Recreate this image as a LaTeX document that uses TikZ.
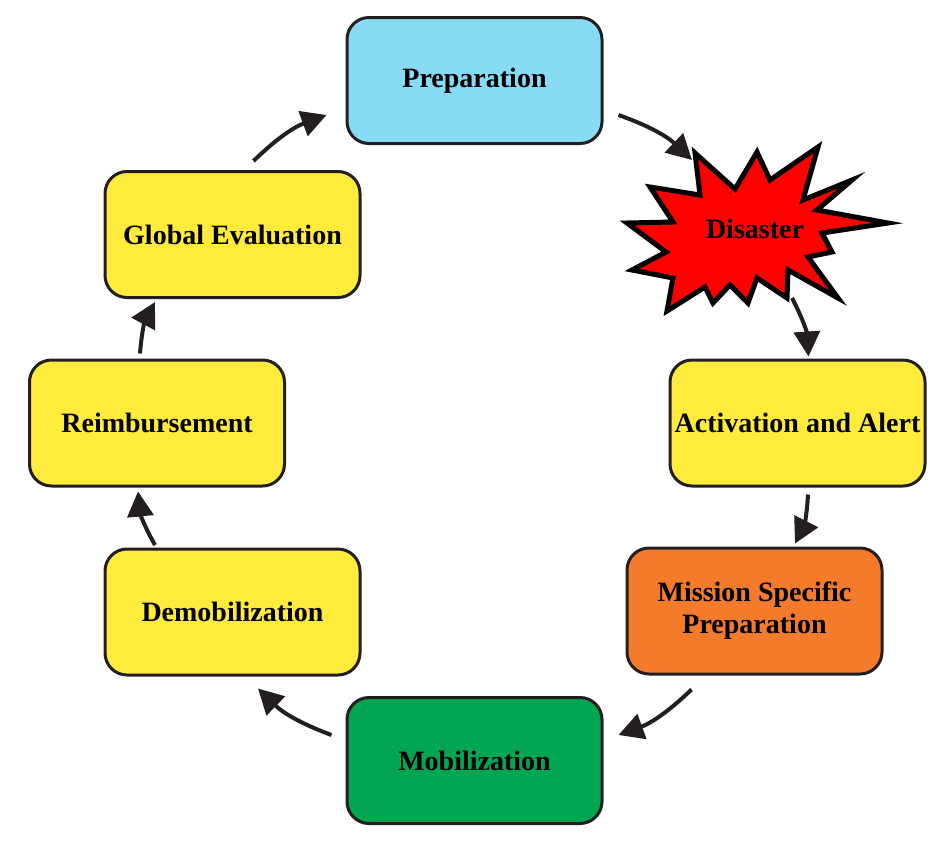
\documentclass[tikz,border=0pt]{standalone}
\usepackage{fontspec}
\setmainfont{Liberation Serif}
\usetikzlibrary{arrows.meta,calc}

\definecolor{outline}{HTML}{231F20}
\definecolor{prepblue}{HTML}{87DBF5}
\definecolor{stepyellow}{HTML}{FFEB3B}
\definecolor{missionorange}{HTML}{F47B2A}
\definecolor{mobgreen}{HTML}{00A651}

\tikzset{
  phase/.style={draw=outline, line width=1.5pt, rounded corners=11pt,
    minimum width=127.5pt, minimum height=63pt, inner sep=0pt, align=center,
    font=\fontsize{14}{16}\selectfont\bfseries},
  flow/.style={draw=outline, line width=2pt, -{Triangle[length=12.5pt,width=13pt]}},
  burst/.style={draw=black, fill=red, line width=2.5pt, line join=miter},
}

\begin{document}
\begin{tikzpicture}[x=0.5pt,y=-0.5pt]
  \useasboundingbox (0,0) rectangle (947,842);

  % the cycle
  \node[phase, fill=prepblue]      (prep)  at (474.5,80.5) {Preparation};
  \node[phase, fill=stepyellow]    (act)   at (797.5,423)  {Activation and Alert};
  \node[phase, fill=missionorange] (mis)   at (754.5,611)  {Mission Specific\\Preparation};
  \node[phase, fill=mobgreen]      (mob)   at (474.5,760.5) {Mobilization};
  \node[phase, fill=stepyellow]    (demob) at (232.5,612)  {Demobilization};
  \node[phase, fill=stepyellow]    (reimb) at (157,423)    {Reimbursement};
  \node[phase, fill=stepyellow]    (glob)  at (232.5,234.5) {Global Evaluation};

  % disaster starburst
  \draw[burst] (695,153) -- (735,189) -- (757,152) -- (770,180) -- (818,147)
    -- (803,200) -- (852,180) -- (817,210) -- (888,223) -- (822,233)
    -- (832,252) -- (808,257) -- (838,298) -- (788,270) -- (787,298)
    -- (757,278) -- (748,303) -- (730,285) -- (713,303) -- (705,287)
    -- (667,311) -- (673,278) -- (632,270) -- (666,252) -- (627,223)
    -- (673,222) -- (650,187) -- (700,195) -- cycle;
  \node[font=\fontsize{14}{16}\selectfont\bfseries, inner sep=0pt] (dis) at (755,229) {Disaster};

  \draw[flow] ($(prep.south east)+(15,-30)$) to[bend left=12] ($(dis)+(-63,-69)$);
  \draw[flow] ($(dis)+(37,69)$) to[bend left=12] ($(act.north)+(11,-2)$);
  \draw[flow] ($(act.south)+(10.5,7)$) to[bend left=12] ($(mis.north)+(40.5,-3)$);
  \draw[flow] ($(mis.south)+(-63,14)$) to[bend left=12] ($(mob.east)+(15,-25.5)$);
  \draw[flow] ($(mob.west)+(-14,-25.5)$) to[bend left=12] ($(demob.south)+(25.5,12)$);
  \draw[flow] ($(demob.north)+(-77.5,-2.5)$) to[bend left=12] ($(reimb.south)+(-19,4)$);
  \draw[flow] ($(reimb.north)+(-17,-5)$) to[bend left=12] ($(glob.south)+(-77.5,3)$);
  \draw[flow] ($(glob.north)+(21,-9)$) to[bend left=12] ($(prep.west)+(-19,34.5)$);
\end{tikzpicture}
\end{document}
